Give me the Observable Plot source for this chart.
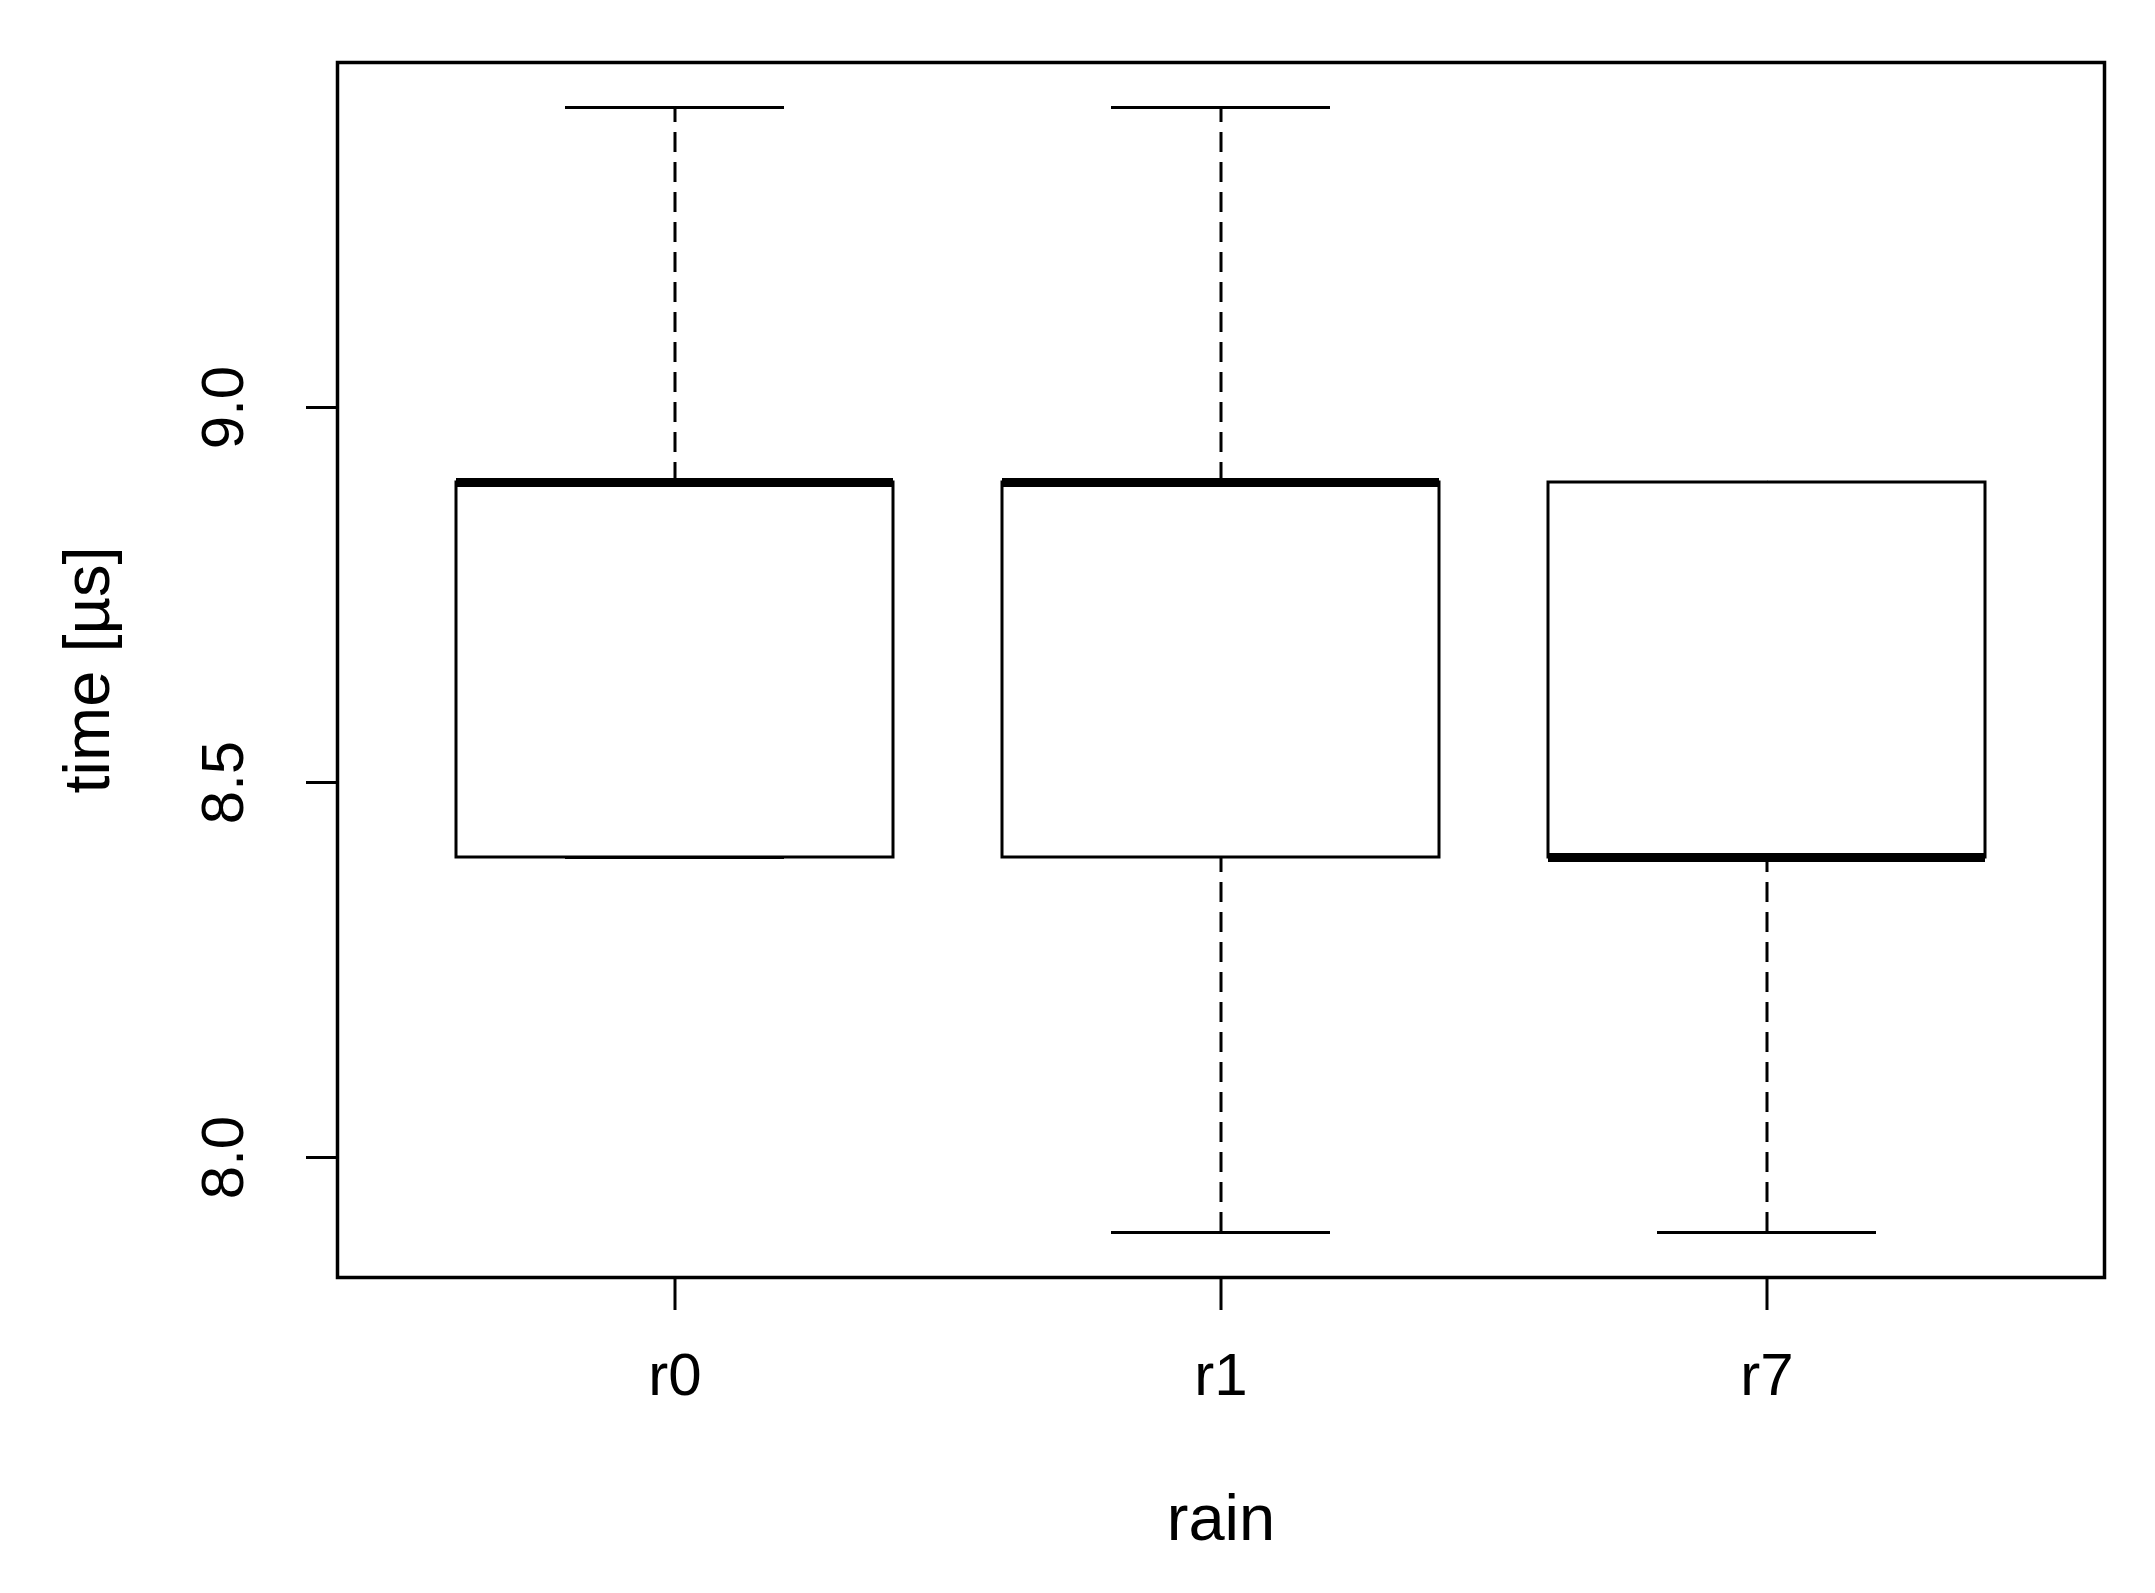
<!DOCTYPE html>
<html><head><meta charset="utf-8">
<script src="https://cdn.jsdelivr.net/npm/d3@7"></script>
<script src="https://cdn.jsdelivr.net/npm/@observablehq/plot@0.6"></script>
<style>
html,body{margin:0;padding:0;background:#fff} svg{display:block}
g[aria-label="x-axis tick"] path, g[aria-label="y-axis tick"] path {stroke:#000; stroke-width:3px; stroke-opacity:1}
g[aria-label="x-axis label"] text, g[aria-label="y-axis label"] text {font-size:65px}
</style>
</head><body><div id="chart"></div>
<script>
const categories = ["r0", "r1", "r7"];
const whiskerLow = [8.4, 7.9, 7.9];
const quartile1 = [8.4, 8.4, 8.4];
const medians = [8.9, 8.9, 8.4];
const quartile3 = [8.9, 8.9, 8.9];
const whiskerHigh = [9.4, 9.4, 8.9];
const yTicks = [8.0, 8.5, 9.0];
const xLabel = "rain";
const yLabel = "time [µs]";

const rows = categories.map((c, i) => ({
  cat: c, lo: whiskerLow[i], q1: quartile1[i], med: medians[i], q3: quartile3[i], hi: whiskerHigh[i]
}));
const yMin = d3.min(whiskerLow), yMax = d3.max(whiskerHigh);
const ext = (yMax - yMin) * 0.04;

const chart = Plot.plot({
  width: 2155,
  height: 1593,
  marginLeft: 337,
  marginRight: 51,
  marginTop: 62,
  marginBottom: 316,
  style: {fontFamily: "'Liberation Sans', Arial, sans-serif", fontSize: "60px", color: "black", background: "white"},
  x: {type: "band", domain: categories, paddingInner: 0.2, paddingOuter: 0.2167, label: xLabel,
      labelAnchor: "center", labelOffset: 262, tickSize: 33, tickPadding: 42},
  y: {domain: [yMin - ext, yMax + ext], ticks: yTicks, tickFormat: d3.format(".1f"), tickSize: 31,
      tickPadding: 64, tickRotate: -90, label: yLabel, labelAnchor: "center", labelOffset: 275, labelArrow: false},
  marks: [
    Plot.ruleX(rows, {x: "cat", y1: "q3", y2: "hi", stroke: "black", strokeWidth: 3, strokeDasharray: "20,10"}),
    Plot.ruleX(rows, {x: "cat", y1: "lo", y2: "q1", stroke: "black", strokeWidth: 3, strokeDasharray: "20,10"}),
    Plot.tickY(rows, {x: "cat", y: "hi", stroke: "black", strokeWidth: 3, insetLeft: 109, insetRight: 109}),
    Plot.tickY(rows, {x: "cat", y: "lo", stroke: "black", strokeWidth: 3, insetLeft: 109, insetRight: 109}),
    Plot.barY(rows, {x: "cat", y1: "q1", y2: "q3", fill: "white", stroke: "black", strokeWidth: 3}),
    Plot.tickY(rows, {x: "cat", y: "med", stroke: "black", strokeWidth: 9}),
    Plot.frame({stroke: "black", strokeWidth: 3.5})
  ]
});
document.getElementById("chart").appendChild(chart);
</script>
</body></html>
